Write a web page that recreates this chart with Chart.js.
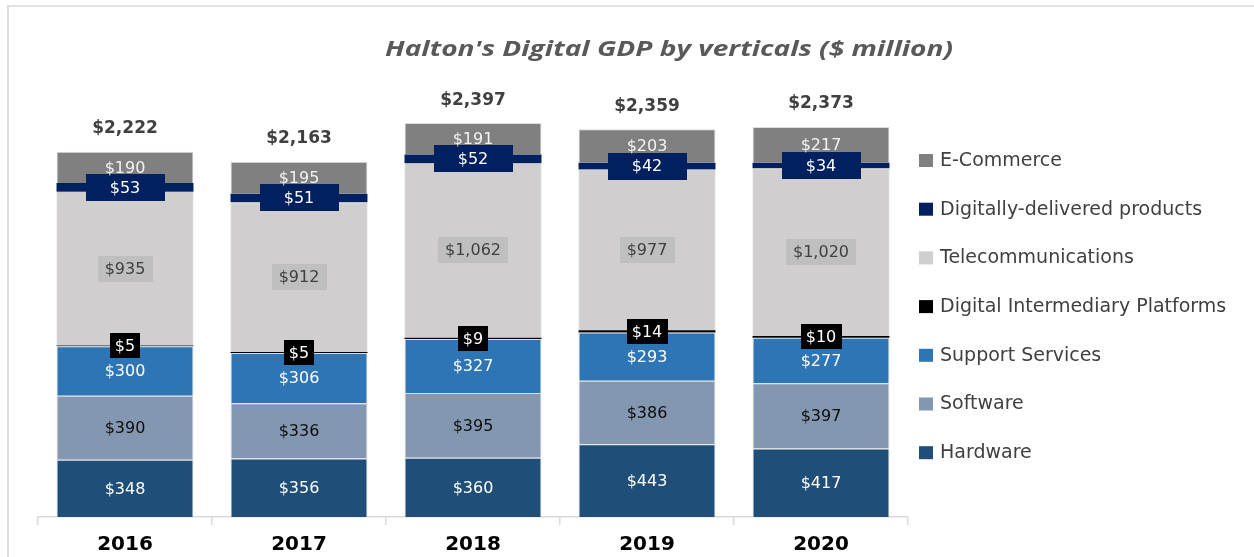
<!DOCTYPE html>
<html><head><meta charset="utf-8">
<script src="https://cdn.jsdelivr.net/npm/chart.js@4.4.0/dist/chart.umd.min.js"></script>
<style>
html,body{margin:0;padding:0;background:#fff;overflow:hidden;}
#wrap{position:relative;width:1254px;height:557px;overflow:hidden;}
#frame{position:absolute;left:7px;top:5px;width:1300px;height:600px;border-left:2px solid #dcdcdc;border-top:2px solid #e2e2e2;}
canvas{position:absolute;left:0;top:0;}
</style></head><body>
<div id="wrap"><div id="frame"></div><canvas id="c" width="1254" height="557"></canvas></div>
<script>
const years = ['2016','2017','2018','2019','2020'];
const hardware = [348,356,360,443,417];
const software = [390,336,395,386,397];
const supportServices = [300,306,327,293,277];
const digitalIntermediary = [5,5,9,14,10];
const telecommunications = [935,912,1062,977,1020];
const digitallyDelivered = [53,51,52,42,34];
const eCommerce = [190,195,191,203,217];
const totalLabels = ['$2,222','$2,163','$2,397','$2,359','$2,373'];
const titleText = "Halton's Digital GDP by verticals ($ million)";

const fmt = v => '$' + v.toLocaleString('en-US');

const dataLabels = {
  id:'dataLabels',
  afterDatasetsDraw(chart){
    const ctx = chart.ctx;
    ctx.save();
    ctx.textAlign='center'; ctx.textBaseline='middle';
    chart.data.datasets.forEach((d,di)=>{
      const meta = chart.getDatasetMeta(di);
      const s = d.labelStyle;
      ctx.font = s.font || '16px "DejaVu Sans"';
      meta.data.forEach((el,i)=>{
        const txt = fmt(d.data[i]);
        const x = el.x, y = (el.y + el.base)/2;
        const w = ctx.measureText(txt).width;
        if (s.bg){
          ctx.fillStyle = s.bg;
          ctx.fillRect(Math.round(x - w/2 - s.padX), Math.round(y - s.h/2), Math.round(w + 2*s.padX), s.h);
        }
        ctx.fillStyle = s.color;
        ctx.fillText(txt, x, y + 1);
      });
    });
    // totals
    const last = chart.getDatasetMeta(chart.data.datasets.length-1);
    ctx.font = 'bold 17px "DejaVu Sans"';
    ctx.fillStyle = '#404040';
    last.data.forEach((el,i)=>{
      ctx.fillText(totalLabels[i], el.x, el.y - 23);
    });
    ctx.restore();
  }
};

const sideLegend = {
  id:'sideLegend',
  afterDraw(chart){
    const ctx = chart.ctx, ca = chart.chartArea, ds = chart.data.datasets;
    ctx.save();
    ctx.font = '19px "DejaVu Sans"';
    ctx.textBaseline = 'middle'; ctx.textAlign = 'left';
    for (let i=0;i<ds.length;i++){
      const d = ds[ds.length-1-i];
      const y = ca.top + 54 + i*48.7;
      ctx.fillStyle = d.backgroundColor;
      ctx.fillRect(ca.right + 11, y - 6, 14, 13);
      ctx.fillStyle = '#404040';
      ctx.fillText(d.label, ca.right + 32, y + 1);
    }
    // title (horizontally widened like the reference)
    ctx.font = 'italic bold 21px "Open Sans"';
    ctx.fillStyle = '#595959';
    ctx.textAlign = 'center';
    const tw = ctx.measureText(titleText).width;
    const sx = 568 / tw;
    ctx.translate(669, 50);
    ctx.scale(sx, 1);
    ctx.fillText(titleText, 0, 0);
    ctx.restore();
  }
};

const thinBorder = 'rgba(210,210,210,0.75)';
new Chart(document.getElementById('c'), {
  type:'bar',
  data:{
    labels: years,
    datasets:[
      {label:'Hardware', data:hardware, backgroundColor:'#1F4E79', borderColor:thinBorder, borderWidth:1, labelStyle:{color:'#ffffff'}},
      {label:'Software', data:software, backgroundColor:'#8497B0', borderColor:thinBorder, borderWidth:1, labelStyle:{color:'#0d0d0d'}},
      {label:'Support Services', data:supportServices, backgroundColor:'#2E75B6', borderColor:thinBorder, borderWidth:1, labelStyle:{color:'#ffffff'}},
      {label:'Digital Intermediary Platforms', data:digitalIntermediary, backgroundColor:'#000000', borderWidth:0, labelStyle:{color:'#ffffff', bg:'#000000', padX:5, h:25}},
      {label:'Telecommunications', data:telecommunications, backgroundColor:'#D0CECE', borderColor:'#bdbdbd', borderWidth:1, labelStyle:{color:'#404040', bg:'#BFBFBF', padX:7, h:26}},
      {label:'Digitally-delivered products', data:digitallyDelivered, backgroundColor:'#002060', borderWidth:0, labelStyle:{color:'#ffffff', bg:'#002060', padX:24, h:27}},
      {label:'E-Commerce', data:eCommerce, backgroundColor:'#808080', borderColor:thinBorder, borderWidth:1, labelStyle:{color:'#f2f2f2'}}
    ]
  },
  options:{
    responsive:false,
    animation:false,
    layout:{padding:{left:38, right:346, top:106, bottom:0}},
    plugins:{legend:{display:false}, tooltip:{enabled:false}, title:{display:false}},
    datasets:{bar:{categoryPercentage:1, barPercentage:0.787}},
    scales:{
      x:{stacked:true,
        afterFit(scale){ scale.height = 40; },
        grid:{offset:true, drawOnChartArea:false, color:'#d9d9d9', tickLength:8, lineWidth:1.5},
        border:{color:'#d9d9d9', width:1.5},
        ticks:{color:'#000', padding:8, font:{family:'"DejaVu Sans"', size:20, weight:'bold'}}
      },
      y:{stacked:true, display:false, min:0, max:2500}
    }
  },
  plugins:[dataLabels, sideLegend]
});
</script>
</body></html>
